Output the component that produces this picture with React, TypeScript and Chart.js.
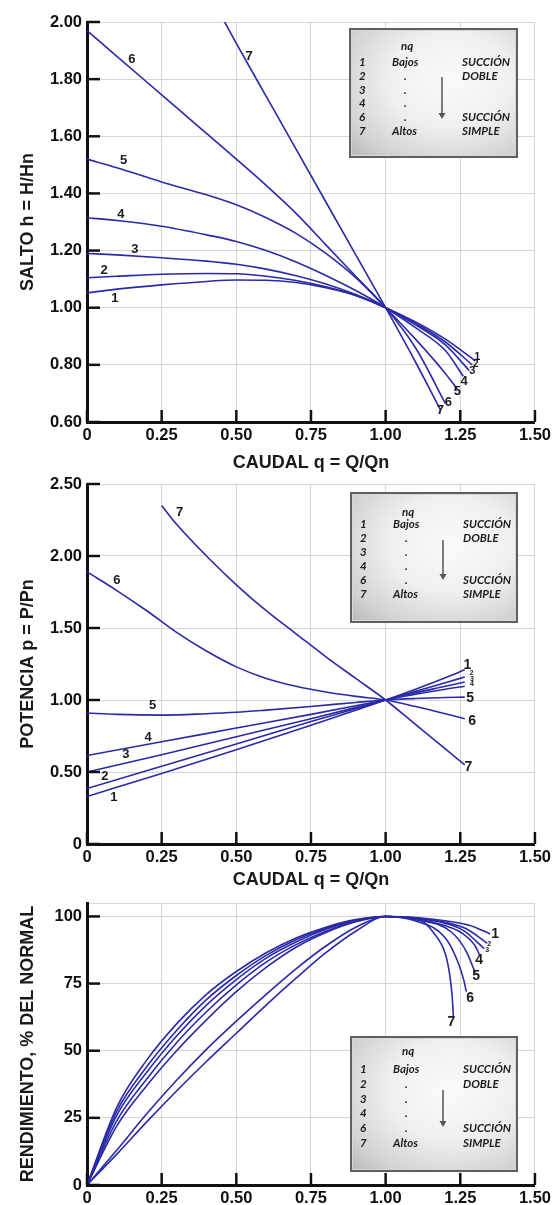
import React, { useEffect, useRef } from 'react';
import { Chart, registerables } from 'chart.js';

Chart.register(...registerables);

type Pt = [number, number];
type Lbl = { t: string; q: number; v: number; s?: number };

// ---------- ticks ----------
const X_TICKS = [0, 0.25, 0.5, 0.75, 1, 1.25, 1.5];
const SALTO_TICKS = [0.6, 0.8, 1.0, 1.2, 1.4, 1.6, 1.8, 2.0];
const POT_TICKS = [0, 0.5, 1, 1.5, 2, 2.5];
const REND_TICKS = [0, 25, 50, 75, 100];
const REND_MAX = 105;

// ---------- SALTO h = H/Hn ----------
const SALTO_1: Pt[] = [[0, 1.052], [0.1, 1.065], [0.25, 1.08], [0.4, 1.092], [0.5, 1.097], [0.6, 1.096], [0.7, 1.088], [0.8, 1.07], [0.9, 1.043], [1, 1.0], [1.1, 0.95], [1.2, 0.89], [1.3, 0.815]];
const SALTO_2: Pt[] = [[0, 1.105], [0.1, 1.11], [0.25, 1.117], [0.4, 1.12], [0.5, 1.119], [0.6, 1.11], [0.7, 1.095], [0.8, 1.073], [0.9, 1.043], [1, 1.0], [1.1, 0.945], [1.2, 0.88], [1.29, 0.8]];
const SALTO_3: Pt[] = [[0, 1.19], [0.1, 1.185], [0.25, 1.175], [0.4, 1.163], [0.5, 1.152], [0.6, 1.135], [0.7, 1.112], [0.8, 1.083], [0.9, 1.046], [1, 1.0], [1.1, 0.94], [1.2, 0.87], [1.28, 0.78]];
const SALTO_4: Pt[] = [[0, 1.315], [0.1, 1.305], [0.25, 1.285], [0.4, 1.255], [0.5, 1.232], [0.6, 1.2], [0.7, 1.16], [0.8, 1.113], [0.9, 1.06], [1, 1.0], [1.1, 0.93], [1.2, 0.85], [1.26, 0.76]];
const SALTO_5: Pt[] = [[0, 1.52], [0.1, 1.49], [0.25, 1.44], [0.4, 1.395], [0.5, 1.36], [0.6, 1.315], [0.7, 1.26], [0.8, 1.19], [0.9, 1.105], [1, 1.0], [1.1, 0.89], [1.2, 0.77], [1.24, 0.715]];
const SALTO_6: Pt[] = [[0, 1.97], [0.1, 1.88], [0.2, 1.79], [0.3, 1.7], [0.4, 1.61], [0.5, 1.52], [0.6, 1.428], [0.7, 1.33], [0.8, 1.22], [0.9, 1.11], [1, 1.0], [1.1, 0.86], [1.2, 0.665]];
const SALTO_7: Pt[] = [[0.44, 2.04], [0.5, 1.925], [0.6, 1.74], [0.7, 1.555], [0.8, 1.37], [0.9, 1.185], [1, 1.0], [1.1, 0.81], [1.185, 0.64]];

// ---------- POTENCIA p = P/Pn ----------
const POT_1: Pt[] = [[0, 0.33], [0.25, 0.49], [0.5, 0.655], [0.75, 0.825], [1, 1.0], [1.1, 1.075], [1.2, 1.155], [1.265, 1.21]];
const POT_2: Pt[] = [[0, 0.385], [0.25, 0.54], [0.5, 0.695], [0.75, 0.85], [1, 1.0], [1.1, 1.06], [1.2, 1.12], [1.265, 1.16]];
const POT_3: Pt[] = [[0, 0.5], [0.25, 0.62], [0.5, 0.745], [0.75, 0.87], [1, 1.0], [1.1, 1.05], [1.2, 1.095], [1.265, 1.125]];
const POT_4: Pt[] = [[0, 0.615], [0.25, 0.71], [0.5, 0.805], [0.75, 0.9], [1, 1.0], [1.1, 1.04], [1.2, 1.075], [1.265, 1.095]];
const POT_5: Pt[] = [[0, 0.91], [0.1, 0.9], [0.25, 0.895], [0.4, 0.905], [0.5, 0.915], [0.6, 0.93], [0.75, 0.955], [0.9, 0.983], [1, 1.0], [1.1, 1.01], [1.2, 1.017], [1.265, 1.02]];
const POT_6: Pt[] = [[0, 1.89], [0.1, 1.76], [0.2, 1.62], [0.3, 1.47], [0.4, 1.34], [0.5, 1.23], [0.6, 1.15], [0.7, 1.095], [0.8, 1.055], [0.9, 1.025], [1, 1.0], [1.1, 0.955], [1.2, 0.905], [1.265, 0.87]];
const POT_7: Pt[] = [[0.25, 2.35], [0.3, 2.22], [0.4, 2.0], [0.5, 1.8], [0.6, 1.62], [0.7, 1.46], [0.8, 1.3], [0.9, 1.15], [1, 1.0], [1.1, 0.83], [1.2, 0.66], [1.265, 0.55]];

// ---------- RENDIMIENTO, % DEL NORMAL ----------
const REND_1: Pt[] = [[0, 0], [0.1, 29], [0.2, 46.5], [0.3, 60], [0.4, 71], [0.5, 79.5], [0.6, 86.5], [0.7, 92], [0.8, 96], [0.9, 98.8], [1, 100], [1.1, 99.6], [1.2, 98.4], [1.28, 96.7], [1.35, 93.5]];
const REND_2: Pt[] = [[0, 0], [0.1, 27.5], [0.2, 44], [0.3, 57.5], [0.4, 69], [0.5, 78], [0.6, 85.5], [0.7, 91.3], [0.8, 95.6], [0.9, 98.7], [1, 100], [1.1, 99.5], [1.2, 97.8], [1.27, 95.4], [1.34, 90]];
const REND_3: Pt[] = [[0, 0], [0.1, 26], [0.2, 42], [0.3, 55.5], [0.4, 67], [0.5, 76.5], [0.6, 84.5], [0.7, 90.5], [0.8, 95.2], [0.9, 98.5], [1, 100], [1.1, 99.4], [1.2, 97.4], [1.26, 94.8], [1.33, 88]];
const REND_4: Pt[] = [[0, 0], [0.1, 24], [0.2, 39.5], [0.3, 53], [0.4, 64.5], [0.5, 74.5], [0.6, 83], [0.7, 89.5], [0.8, 94.5], [0.9, 98.2], [1, 100], [1.1, 99.2], [1.2, 96.5], [1.25, 94.2], [1.3, 89], [1.315, 85.5]];
const REND_5: Pt[] = [[0, 0], [0.1, 22], [0.2, 37], [0.3, 50], [0.4, 61.5], [0.5, 72], [0.6, 81], [0.7, 88.5], [0.8, 94], [0.9, 98], [1, 100], [1.1, 98.8], [1.22, 94.2], [1.27, 87], [1.3, 79]];
const REND_6: Pt[] = [[0, 0], [0.1, 13], [0.2, 26.5], [0.3, 39], [0.4, 50.5], [0.5, 61], [0.6, 71], [0.7, 80.5], [0.8, 89], [0.9, 96], [1, 100], [1.1, 98.3], [1.2, 92], [1.24, 83.6], [1.262, 76.2], [1.27, 72]];
const REND_7: Pt[] = [[0, 0], [0.1, 11.5], [0.2, 23.5], [0.3, 35], [0.4, 46], [0.5, 56.5], [0.6, 67], [0.7, 77], [0.8, 86.5], [0.9, 94.5], [1, 100], [1.05, 99.8], [1.12, 98.4], [1.16, 94], [1.2, 86], [1.215, 78], [1.223, 70], [1.227, 62.5]];

// ---------- curve labels ----------
const SALTO_LABELS: Lbl[] = [
  { t: '6', q: 0.15, v: 1.87 }, { t: '7', q: 0.543, v: 1.881 }, { t: '5', q: 0.123, v: 1.517 },
  { t: '4', q: 0.113, v: 1.325 }, { t: '3', q: 0.16, v: 1.205 }, { t: '2', q: 0.057, v: 1.132 },
  { t: '1', q: 0.093, v: 1.034 },
  { t: '1', q: 1.307, v: 0.827, s: 11 }, { t: '2', q: 1.302, v: 0.803, s: 10 }, { t: '3', q: 1.29, v: 0.777, s: 11 },
  { t: '4', q: 1.263, v: 0.743 }, { t: '5', q: 1.24, v: 0.708 }, { t: '6', q: 1.21, v: 0.67 }, { t: '7', q: 1.183, v: 0.642 },
];
const POT_LABELS: Lbl[] = [
  { t: '7', q: 0.31, v: 2.3 }, { t: '6', q: 0.1, v: 1.83 }, { t: '5', q: 0.22, v: 0.96 },
  { t: '4', q: 0.205, v: 0.74 }, { t: '3', q: 0.13, v: 0.62 }, { t: '2', q: 0.06, v: 0.47 }, { t: '1', q: 0.09, v: 0.32 },
  { t: '1', q: 1.274, v: 1.24, s: 14 }, { t: '2', q: 1.287, v: 1.19, s: 7 }, { t: '3', q: 1.289, v: 1.148, s: 7 },
  { t: '4', q: 1.289, v: 1.108, s: 7 }, { t: '5', q: 1.283, v: 1.01, s: 14 }, { t: '6', q: 1.29, v: 0.855, s: 14 },
  { t: '7', q: 1.277, v: 0.535, s: 14 },
];
const REND_LABELS: Lbl[] = [
  { t: '1', q: 1.367, v: 93.3, s: 14 }, { t: '2', q: 1.347, v: 89.8, s: 7 }, { t: '3', q: 1.34, v: 87.3, s: 7 },
  { t: '4', q: 1.313, v: 83.6, s: 14 }, { t: '5', q: 1.303, v: 77.7, s: 14 }, { t: '6', q: 1.283, v: 69.5, s: 14 },
  { t: '7', q: 1.22, v: 60.6, s: 14 },
];

// ---------- legend box text ----------
const LEGEND_NUM = ['1', '2', '3', '4', '6', '7'];
const LEGEND_NQ = ['Bajos', '.', '.', '.', '.', 'Altos'];
const LEGEND_SUC = ['SUCCIÓN', 'DOBLE', '', '', 'SUCCIÓN', 'SIMPLE'];

const FONT = "'Liberation Sans', Arial, sans-serif";
const LINE_COLOR = '#2a2aa8';

function fmt2(v: number) {
  return v === 0 ? '0' : v.toFixed(2);
}

interface ChartSpec {
  series: Pt[][];
  yMin: number;
  yMax: number;
  yTicks: number[];
  yFmt: (v: number) => string;
  yTitle: string;
  xTitle: string | null;
  xTitlePadBottom: number;
  padTop: number;
  xAxisH: number;
  labels: Lbl[];
}

function overlayPlugin(yTicks: number[], labels: Lbl[]) {
  return {
    id: 'overlay',
    afterDatasetsDraw(chart: any) {
      const { ctx, chartArea } = chart;
      const x = chart.scales.x;
      const y = chart.scales.y;
      ctx.save();
      ctx.strokeStyle = '#111';
      ctx.lineWidth = 2.5;
      for (const v of X_TICKS) {
        const px = x.getPixelForValue(v);
        ctx.beginPath();
        ctx.moveTo(px, chartArea.bottom);
        ctx.lineTo(px, chartArea.bottom - 12);
        ctx.stroke();
      }
      for (const v of yTicks) {
        const py = y.getPixelForValue(v);
        ctx.beginPath();
        ctx.moveTo(chartArea.left, py);
        ctx.lineTo(chartArea.left + 13, py);
        ctx.stroke();
      }
      ctx.fillStyle = '#1a1a1a';
      ctx.textAlign = 'center';
      ctx.textBaseline = 'middle';
      for (const l of labels) {
        ctx.font = `bold ${l.s ?? 13}px ${FONT}`;
        ctx.fillText(l.t, x.getPixelForValue(l.q), y.getPixelForValue(l.v));
      }
      ctx.restore();
    },
  };
}

function buildConfig(s: ChartSpec): any {
  const gridTicks = s.yTicks.includes(s.yMax) ? s.yTicks : [...s.yTicks, s.yMax];
  return {
    type: 'line',
    data: {
      datasets: s.series.map((pts, i) => ({
        label: String(i + 1),
        data: pts.map(([q, v]) => ({ x: q, y: v })),
        borderColor: LINE_COLOR,
        borderWidth: 1.6,
        pointRadius: 0,
        fill: false,
        cubicInterpolationMode: 'monotone',
      })),
    },
    options: {
      animation: false,
      responsive: false,
      devicePixelRatio: 1,
      layout: { padding: { top: s.padTop, right: 18, left: 0, bottom: 0 } },
      plugins: { legend: { display: false }, tooltip: { enabled: false } },
      scales: {
        x: {
          type: 'linear',
          min: 0,
          max: 1.5,
          afterBuildTicks: (sc: any) => { sc.ticks = X_TICKS.map((v) => ({ value: v })); },
          afterFit: (sc: any) => { sc.height = s.xAxisH; },
          ticks: {
            autoSkip: false,
            maxRotation: 0,
            padding: 4,
            color: '#111',
            font: { family: FONT, size: 16.5, weight: 'bold' },
            callback: (v: number) => fmt2(v),
          },
          grid: { color: '#d6d6d6', lineWidth: 1, drawTicks: false },
          border: { display: true, color: '#111', width: 3 },
          title: s.xTitle
            ? {
                display: true,
                text: s.xTitle,
                color: '#1a1a1a',
                font: { family: FONT, size: 18, weight: 'bold' },
                padding: { top: 0, bottom: s.xTitlePadBottom },
              }
            : { display: false },
        },
        y: {
          type: 'linear',
          min: s.yMin,
          max: s.yMax,
          afterBuildTicks: (sc: any) => { sc.ticks = gridTicks.map((v) => ({ value: v })); },
          afterFit: (sc: any) => { sc.width = 87; },
          ticks: {
            autoSkip: false,
            padding: 5,
            color: '#111',
            font: { family: FONT, size: 16.5, weight: 'bold' },
            callback: (v: number) => (s.yTicks.includes(v) ? s.yFmt(v) : ''),
          },
          grid: { color: '#d6d6d6', lineWidth: 1, drawTicks: false },
          border: { display: true, color: '#111', width: 3 },
          title: {
            display: true,
            text: s.yTitle,
            color: '#1a1a1a',
            font: { family: FONT, size: 18, weight: 'bold' },
            padding: { top: 17, bottom: 0 },
          },
        },
      },
    },
    plugins: [overlayPlugin(s.yTicks, s.labels)],
  };
}

function ChartCanvas({ spec, top, height }: { spec: ChartSpec; top: number; height: number }) {
  const ref = useRef<HTMLCanvasElement | null>(null);
  useEffect(() => {
    if (!ref.current) return;
    const chart = new Chart(ref.current, buildConfig(spec));
    return () => chart.destroy();
  }, [spec]);
  return (
    <canvas
      ref={ref}
      width={555}
      height={height}
      style={{ position: 'absolute', left: 0, top, width: 555, height }}
    />
  );
}

interface BoxSpec {
  left: number; top: number; width: number; height: number;
  nqY: number; rowY: number; rowGap: number; arrowY1: number; arrowY2: number;
}

function LegendBox({ b }: { b: BoxSpec }) {
  const txt: React.CSSProperties = { position: 'absolute', lineHeight: '14px', whiteSpace: 'nowrap' };
  return (
    <div
      style={{
        position: 'absolute',
        left: b.left,
        top: b.top,
        width: b.width,
        height: b.height,
        boxSizing: 'border-box',
        border: '2px solid #5f5f5f',
        boxShadow: 'inset 0 0 0 1px #d8d8d8',
        background: 'radial-gradient(ellipse at 60% 40%, #fbfbfb 0%, #efefef 45%, #d2d2d2 80%, #b8b8b8 100%)',
        fontFamily: "Lato, 'Liberation Sans', sans-serif",
        fontStyle: 'italic',
        fontWeight: 700,
        fontSize: 11.5,
        color: '#1c1c1c',
      }}
    >
      <span style={{ ...txt, left: 50, top: b.nqY - 7 }}>nq</span>
      {LEGEND_NUM.map((n, i) => {
        const y = b.rowY + i * b.rowGap - 7;
        const mid = LEGEND_NQ[i];
        return (
          <React.Fragment key={i}>
            <span style={{ ...txt, left: 8, top: y }}>{n}</span>
            <span style={{ ...txt, left: mid === '.' ? 53 : 41, top: y }}>{mid}</span>
            {LEGEND_SUC[i] ? <span style={{ ...txt, left: 111, top: y }}>{LEGEND_SUC[i]}</span> : null}
          </React.Fragment>
        );
      })}
      <svg
        width={14}
        height={b.arrowY2 - b.arrowY1}
        style={{ position: 'absolute', left: 84, top: b.arrowY1 }}
      >
        <line x1={7} y1={0} x2={7} y2={b.arrowY2 - b.arrowY1 - 4} stroke="#555" strokeWidth={1.5} />
        <polygon
          points={`3.5,${b.arrowY2 - b.arrowY1 - 6} 10.5,${b.arrowY2 - b.arrowY1 - 6} 7,${b.arrowY2 - b.arrowY1}`}
          fill="#555"
        />
      </svg>
    </div>
  );
}

const SPEC_SALTO: ChartSpec = {
  series: [SALTO_1, SALTO_2, SALTO_3, SALTO_4, SALTO_5, SALTO_6, SALTO_7],
  yMin: 0.6, yMax: 2.0, yTicks: SALTO_TICKS, yFmt: (v) => v.toFixed(2),
  yTitle: 'SALTO h = H/Hn', xTitle: 'CAUDAL q = Q/Qn', xTitlePadBottom: 4,
  padTop: 22, xAxisH: 56, labels: SALTO_LABELS,
};
const SPEC_POT: ChartSpec = {
  series: [POT_1, POT_2, POT_3, POT_4, POT_5, POT_6, POT_7],
  yMin: 0, yMax: 2.5, yTicks: POT_TICKS, yFmt: fmt2,
  yTitle: 'POTENCIA p = P/Pn', xTitle: 'CAUDAL q = Q/Qn', xTitlePadBottom: 1,
  padTop: 16, xAxisH: 48, labels: POT_LABELS,
};
const SPEC_REND: ChartSpec = {
  series: [REND_1, REND_2, REND_3, REND_4, REND_5, REND_6, REND_7],
  yMin: 0, yMax: REND_MAX, yTicks: REND_TICKS, yFmt: (v) => String(v),
  yTitle: 'RENDIMIENTO, % DEL NORMAL', xTitle: null, xTitlePadBottom: 0,
  padTop: 17, xAxisH: 20, labels: REND_LABELS,
};

const BOX_TOP: BoxSpec = { left: 349, top: 28, width: 169, height: 130, nqY: 16, rowY: 32, rowGap: 13.8, arrowY1: 47, arrowY2: 89 };
const BOX_MID: BoxSpec = { left: 350, top: 492, width: 168, height: 131, nqY: 18, rowY: 30, rowGap: 14, arrowY1: 46, arrowY2: 86 };
const BOX_BOT: BoxSpec = { left: 350, top: 1036, width: 168, height: 136, nqY: 13, rowY: 31, rowGap: 14.8, arrowY1: 52, arrowY2: 89 };

export default function App() {
  return (
    <div style={{ position: 'absolute', left: 0, top: 0, width: 555, height: 1205, background: '#fff', overflow: 'hidden' }}>
      <ChartCanvas spec={SPEC_SALTO} top={0} height={478} />
      <ChartCanvas spec={SPEC_POT} top={468} height={424} />
      <ChartCanvas spec={SPEC_REND} top={886} height={319} />
      <LegendBox b={BOX_TOP} />
      <LegendBox b={BOX_MID} />
      <LegendBox b={BOX_BOT} />
    </div>
  );
}
